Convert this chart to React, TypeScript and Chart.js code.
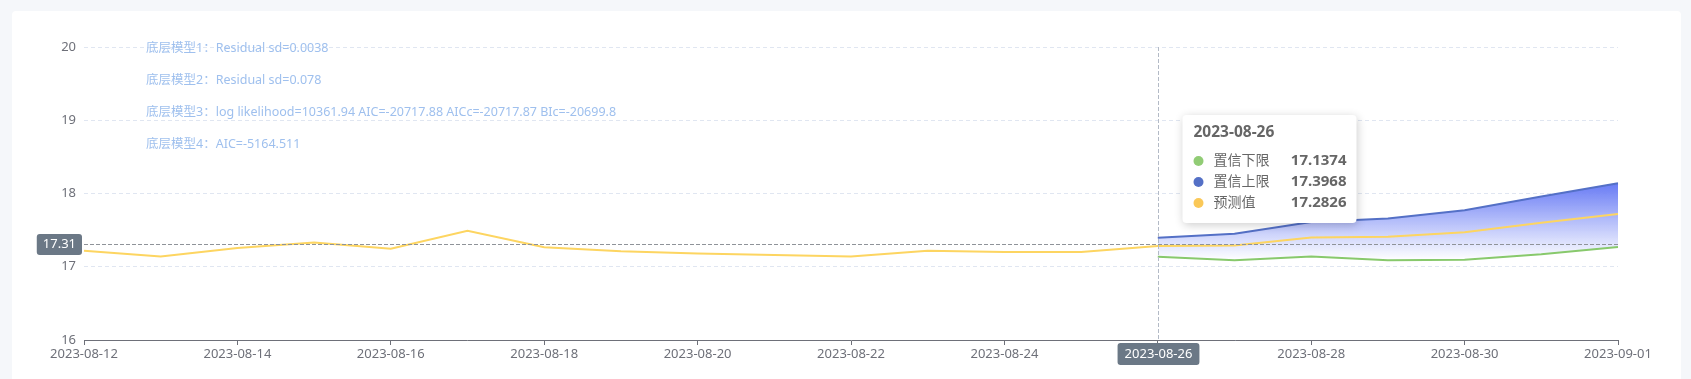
import { useEffect, useRef } from 'react';
import { Chart, registerables } from 'chart.js';

Chart.register(...registerables);

// ---------- data ----------
const dates = [
  '2023-08-12', '2023-08-13', '2023-08-14', '2023-08-15', '2023-08-16', '2023-08-17', '2023-08-18',
  '2023-08-19', '2023-08-20', '2023-08-21', '2023-08-22', '2023-08-23', '2023-08-24', '2023-08-25',
  '2023-08-26', '2023-08-27', '2023-08-28', '2023-08-29', '2023-08-30', '2023-08-31', '2023-09-01',
];
const predicted = [
  17.22, 17.14, 17.255, 17.33, 17.245, 17.49, 17.265,
  17.21, 17.18, 17.16, 17.14, 17.22, 17.2, 17.2,
  17.2826, 17.29, 17.4, 17.41, 17.47, 17.6, 17.72,
];
const forecastStartIndex = 14;
const lowerBound = [17.1374, 17.09, 17.14, 17.09, 17.095, 17.17, 17.27];
const upperBound = [17.3968, 17.45, 17.61, 17.66, 17.77, 17.96, 18.14];
const seriesNames = ['置信下限', '置信上限', '预测值'];
const seriesColors = ['#91cc75', '#5470c6', '#fac858'];
const lineColors = ['#88c96c', '#5470c6', '#fdd561'];
const crosshairDate = '2023-08-26';
const crosshairValue = 17.31;
const modelNotes = [
  '底层模型1：Residual sd=0.0038',
  '底层模型2：Residual sd=0.078',
  '底层模型3：log likelihood=10361.94 AIC=-20717.88 AICc=-20717.87 BIc=-20699.8',
  '底层模型4：AIC=-5164.511',
];
const yMin = 16;
const yMax = 20;
const yStep = 1;

const FONT = '"Noto Sans", "Noto Sans CJK SC", sans-serif';
const AXIS_COLOR = '#6e7079';
const POINTER_BG = '#6b7886';

const lowerFull = dates.map((_, i) => (i >= forecastStartIndex ? lowerBound[i - forecastStartIndex] : null));
const upperFull = dates.map((_, i) => (i >= forecastStartIndex ? upperBound[i - forecastStartIndex] : null));

function rr(ctx: CanvasRenderingContext2D, x: number, y: number, w: number, h: number, r: number) {
  ctx.beginPath();
  ctx.moveTo(x + r, y);
  ctx.lineTo(x + w - r, y);
  ctx.quadraticCurveTo(x + w, y, x + w, y + r);
  ctx.lineTo(x + w, y + h - r);
  ctx.quadraticCurveTo(x + w, y + h, x + w - r, y + h);
  ctx.lineTo(x + r, y + h);
  ctx.quadraticCurveTo(x, y + h, x, y + h - r);
  ctx.lineTo(x, y + r);
  ctx.quadraticCurveTo(x, y, x + r, y);
  ctx.closePath();
}

const overlayPlugin = {
  id: 'overlay',
  afterDraw(chart: any) {
    const { ctx, chartArea, scales } = chart;
    const idx = dates.indexOf(crosshairDate);
    const cx = Math.round(scales.x.getPixelForValue(idx)) + 0.5;
    const cy = Math.round(scales.y.getPixelForValue(crosshairValue)) + 0.5;
    ctx.save();

    // model notes
    ctx.font = `12.5px ${FONT}`;
    ctx.fillStyle = '#9fc0ee';
    ctx.textAlign = 'left';
    ctx.textBaseline = 'middle';
    modelNotes.forEach((t, i) => {
      ctx.fillText(t, chartArea.left + 62, chartArea.top + 1 + i * 32.3);
    });

    // crosshair lines
    ctx.lineWidth = 1;
    ctx.setLineDash([4, 2]);
    ctx.strokeStyle = '#b3bac6';
    ctx.beginPath();
    ctx.moveTo(cx, chartArea.top);
    ctx.lineTo(cx, chartArea.bottom);
    ctx.stroke();
    ctx.strokeStyle = '#8f9399';
    ctx.beginPath();
    ctx.moveTo(chartArea.left, cy);
    ctx.lineTo(chartArea.right, cy);
    ctx.stroke();
    ctx.setLineDash([]);

    // crosshair labels
    ctx.font = `13px ${FONT}`;
    ctx.textAlign = 'center';
    const xLabel = dates[idx];
    const xw = ctx.measureText(xLabel).width + 14;
    ctx.fillStyle = POINTER_BG;
    rr(ctx, cx - xw / 2, chartArea.bottom + 3, xw, 22, 3);
    ctx.fill();
    ctx.fillStyle = '#fff';
    ctx.fillText(xLabel, cx, chartArea.bottom + 14);

    const yLabel = crosshairValue.toFixed(2);
    const yw = ctx.measureText(yLabel).width + 12;
    ctx.fillStyle = POINTER_BG;
    rr(ctx, chartArea.left - 2 - yw, cy - 10.5, yw, 21, 3);
    ctx.fill();
    ctx.fillStyle = '#fff';
    ctx.fillText(yLabel, chartArea.left - 2 - yw / 2, cy);

    // tooltip
    const bx = cx + 24;
    const by = chartArea.top + 68;
    const bw = 174;
    const bh = 108;
    ctx.save();
    ctx.shadowColor = 'rgba(0,0,0,0.2)';
    ctx.shadowBlur = 10;
    ctx.shadowOffsetX = 1;
    ctx.shadowOffsetY = 2;
    ctx.fillStyle = '#fff';
    rr(ctx, bx, by, bw, bh, 4);
    ctx.fill();
    ctx.restore();
    ctx.textAlign = 'left';
    ctx.textBaseline = 'middle';
    ctx.fillStyle = '#666';
    ctx.font = `bold 15.5px ${FONT}`;
    ctx.fillText(dates[idx], bx + 11, by + 18);
    const rows = [lowerFull[idx], upperFull[idx], predicted[idx]];
    rows.forEach((v, i) => {
      const ry = by + 46 + i * 21;
      ctx.fillStyle = seriesColors[i];
      ctx.beginPath();
      ctx.arc(bx + 16, ry, 5, 0, Math.PI * 2);
      ctx.fill();
      ctx.fillStyle = '#666';
      ctx.font = `14px ${FONT}`;
      ctx.textAlign = 'left';
      ctx.fillText(seriesNames[i], bx + 31, ry);
      ctx.font = `bold 15px ${FONT}`;
      ctx.textAlign = 'right';
      ctx.fillText(String(v), bx + bw - 10, ry);
    });
    ctx.restore();
  },
};

const CARD_W = 1669;
const CANVAS_H = 368;

export default function App() {
  const ref = useRef<HTMLCanvasElement | null>(null);

  useEffect(() => {
    if (!ref.current) return;
    Chart.defaults.font.family = FONT;
    const chart = new Chart(ref.current, {
      type: 'line',
      data: {
        labels: dates,
        datasets: [
          {
            label: seriesNames[0],
            data: lowerFull,
            borderColor: lineColors[0],
            borderWidth: 2,
            pointRadius: 0,
            fill: false,
            order: 2,
          },
          {
            label: seriesNames[1],
            data: upperFull,
            borderColor: lineColors[1],
            borderWidth: 2,
            pointRadius: 0,
            fill: { target: 0 },
            order: 1,
            backgroundColor: (c: any) => {
              const ch = c.chart;
              if (!ch.chartArea) return 'rgba(100,120,245,0.4)';
              const y = ch.scales.y;
              const top = y.getPixelForValue(Math.max(...upperBound));
              const bottom = y.getPixelForValue(Math.min(...lowerBound));
              const g = ch.ctx.createLinearGradient(0, top, 0, bottom);
              g.addColorStop(0, 'rgba(96,116,244,0.95)');
              g.addColorStop(1, 'rgba(255,255,255,0.9)');
              return g;
            },
          },
          {
            label: seriesNames[2],
            data: predicted,
            borderColor: lineColors[2],
            borderWidth: 2,
            pointRadius: 0,
            fill: false,
            order: 0,
          },
        ],
      },
      options: {
        animation: false,
        responsive: false,
        maintainAspectRatio: false,
        layout: { padding: { top: 36, right: 63, bottom: 0, left: 0 } },
        plugins: {
          legend: { display: false },
          tooltip: { enabled: false },
          filler: { drawTime: 'beforeDatasetsDraw' },
        },
        elements: { line: { tension: 0 } },
        scales: {
          x: {
            type: 'category',
            offset: false,
            afterFit: (s: any) => {
              s.height = 39;
            },
            border: { display: true, color: AXIS_COLOR, width: 1 },
            grid: {
              drawOnChartArea: false,
              drawTicks: true,
              tickLength: 5,
              color: AXIS_COLOR,
            },
            ticks: {
              autoSkip: false,
              maxRotation: 0,
              padding: 1,
              color: AXIS_COLOR,
              font: { size: 13, family: FONT },
              callback: (_v: any, i: number) => (i % 2 === 0 ? dates[i] : null),
            },
          },
          y: {
            min: yMin,
            max: yMax,
            afterFit: (s: any) => {
              s.width = 72;
            },
            border: { display: false, dash: [4, 3] },
            grid: {
              color: '#e0e6f1',
              drawTicks: false,
              lineWidth: 1,
            },
            ticks: {
              stepSize: yStep,
              padding: 8,
              color: AXIS_COLOR,
              font: { size: 13, family: FONT },
            },
          },
        },
      },
      plugins: [overlayPlugin],
    } as any);
    return () => chart.destroy();
  }, []);

  return (
    <div style={{ position: 'fixed', inset: 0, background: '#f5f7fa', overflow: 'hidden' }}>
      <div
        style={{
          position: 'absolute',
          left: 12,
          top: 11,
          width: CARD_W,
          height: 400,
          background: '#fff',
          borderRadius: 4,
        }}
      >
        <canvas ref={ref} width={CARD_W} height={CANVAS_H} style={{ display: 'block' }} />
      </div>
    </div>
  );
}
